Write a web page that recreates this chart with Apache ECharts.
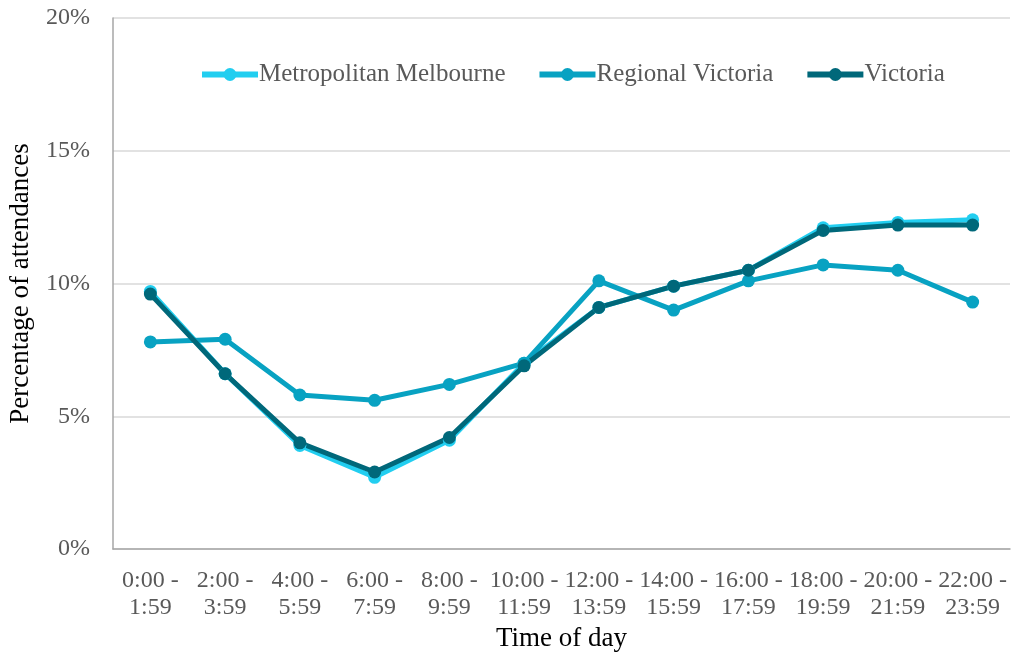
<!DOCTYPE html>
<html>
<head>
<meta charset="utf-8">
<script src="https://cdn.jsdelivr.net/npm/echarts@6/dist/echarts.min.js"></script>
<style>
  html, body { margin: 0; padding: 0; background: #fff; }
  #main { width: 1012px; height: 655px; }
</style>
</head>
<body>
<div id="main"></div>
<script>
// data
var categories = ['0:00 -\n1:59', '2:00 -\n3:59', '4:00 -\n5:59', '6:00 -\n7:59', '8:00 -\n9:59',
    '10:00 -\n11:59', '12:00 -\n13:59', '14:00 -\n15:59', '16:00 -\n17:59', '18:00 -\n19:59',
    '20:00 -\n21:59', '22:00 -\n23:59'];
var metroData = [9.7, 6.6, 3.9, 2.7, 4.1, 7.0, 9.1, 9.9, 10.5, 12.1, 12.3, 12.4];
var regionalData = [7.8, 7.9, 5.8, 5.6, 6.2, 7.0, 10.1, 9.0, 10.1, 10.7, 10.5, 9.3];
var victoriaData = [9.6, 6.6, 4.0, 2.9, 4.2, 6.9, 9.1, 9.9, 10.5, 12.0, 12.2, 12.2];

var font = 'Liberation Serif';
var textColor = '#595959';

var myChart = echarts.init(document.getElementById('main'));

function lineSeries(name, data, color) {
    return {
        name: name,
        type: 'line',
        data: data,
        symbol: 'circle',
        symbolSize: 13,
        lineStyle: { color: color, width: 5 },
        itemStyle: { color: color },
        emphasis: { disabled: true }
    };
}

var option = {
    animation: false,
    backgroundColor: '#fff',
    textStyle: { fontFamily: font },
    legend: {
        top: 57,
        left: 194,
        itemWidth: 56,
        itemHeight: 16,
        itemGap: 31,
        lineStyle: { width: 6 },
        textStyle: { fontFamily: font, fontSize: 25, color: textColor, padding: [0, 0, 0, -4] },
        data: ['Metropolitan Melbourne', 'Regional Victoria', 'Victoria']
    },
    grid: { left: 113, right: 2, top: 18, bottom: 106, outerBoundsMode: 'none' },
    xAxis: {
        type: 'category',
        data: categories,
        name: 'Time of day',
        nameLocation: 'middle',
        nameGap: 75,
        nameTextStyle: { fontFamily: font, fontSize: 27, color: '#000' },
        axisLine: { lineStyle: { color: '#a6a6a6', width: 1.5 } },
        axisTick: { show: false },
        axisLabel: { fontFamily: font, fontSize: 24, color: textColor, lineHeight: 27, margin: 18, interval: 0 }
    },
    yAxis: {
        type: 'value',
        min: 0,
        max: 20,
        interval: 5,
        name: 'Percentage of attendances',
        nameLocation: 'middle',
        nameGap: 79,
        nameTextStyle: { fontFamily: font, fontSize: 27, color: '#000' },
        axisLine: { show: true, lineStyle: { color: '#a6a6a6', width: 1.5 } },
        axisTick: { show: false },
        axisLabel: { fontFamily: font, fontSize: 24, color: textColor, margin: 23, formatter: '{value}%' },
        splitLine: { lineStyle: { color: '#d9d9d9', width: 1.5 } }
    },
    series: [
        lineSeries('Metropolitan Melbourne', metroData, '#22CEF0'),
        lineSeries('Regional Victoria', regionalData, '#08A2C2'),
        lineSeries('Victoria', victoriaData, '#00687A')
    ]
};

myChart.setOption(option);
</script>
</body>
</html>
